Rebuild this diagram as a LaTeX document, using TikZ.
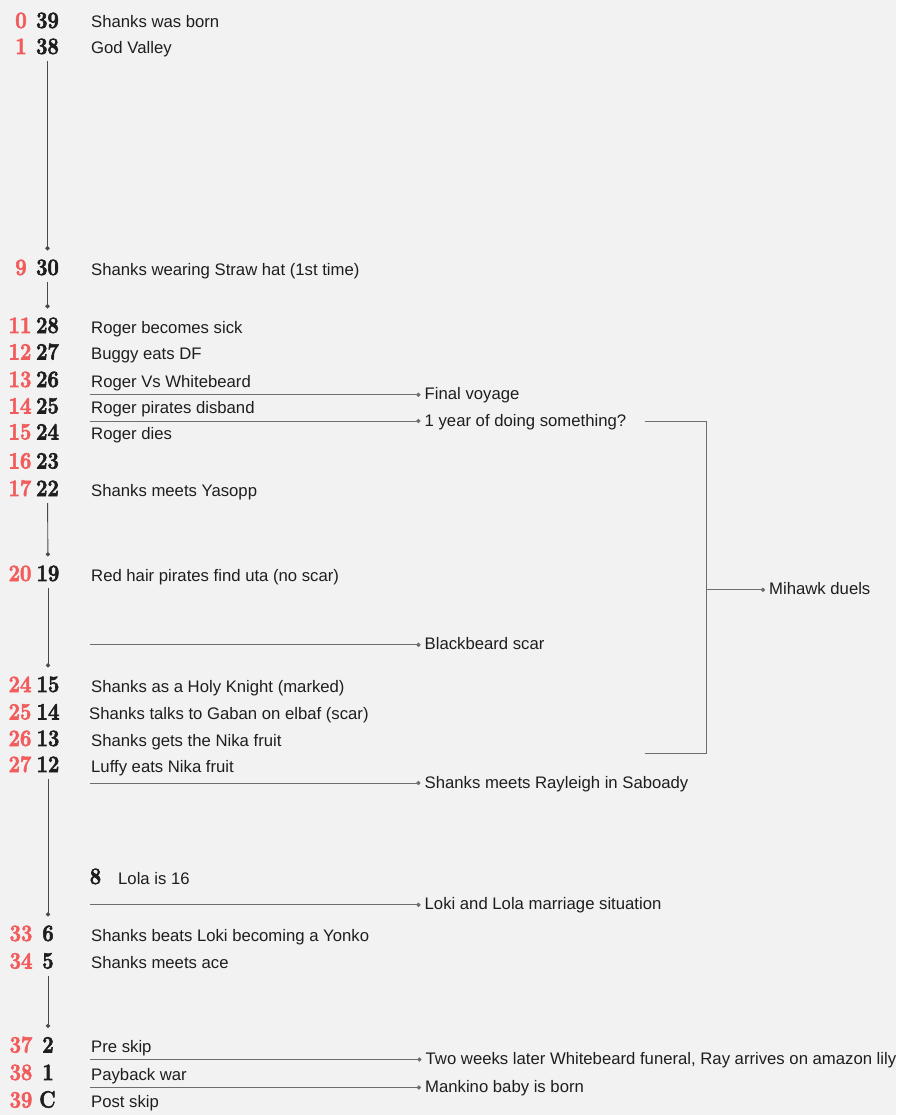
\documentclass[tikz,border=0pt]{standalone}
\usepackage{fontspec}
\usepackage{xcolor}
\usepackage{tikz}
\usetikzlibrary{arrows.meta}
\newfontfamily\labelfont{Liberation Sans}
\newfontfamily\numfont{Latin Modern Roman}[BoldFeatures={FakeBold=2.5, FakeStretch=0.86}]
\definecolor{bggray}{HTML}{F2F2F2}
\definecolor{agered}{HTML}{F25C5C}
\definecolor{inkdark}{HTML}{1E1E1E}
\definecolor{linedark}{HTML}{4A4A4A}
\definecolor{linegray}{HTML}{6E6E6E}

\begin{document}
\begin{tikzpicture}[
    x=1pt, y=-1pt,
    age/.style={anchor=base, inner sep=0pt, text=agered, font=\numfont\fontsize{23.5}{24}\selectfont\bfseries},
    num/.style={anchor=base, inner sep=0pt, text=inkdark, font=\numfont\fontsize{23.5}{24}\selectfont\bfseries},
    event/.style={anchor=base west, inner sep=0pt, text=inkdark, font=\labelfont\fontsize{16.7}{20}\selectfont},
    note/.style={event, text height=13pt, text depth=3pt},
    tline/.style={linedark, line width=0.9pt, shorten <=7pt, shorten >=9pt, -{Circle[length=4.2pt]}},
    link/.style={linegray, line width=0.9pt, shorten >=4pt, -{Circle[length=4.2pt]}},
    bracket/.style={linegray, line width=0.9pt}
  ]

    \path[use as bounding box, fill=bggray] (0,0) rectangle (896,1115);

    % Ages — red = Shanks' age, black = years before the story
    \node[age] (age0) at (21,28) {0};
    \node[num] (yr39) at (47.5,28) {39};
    \node[event] (ev39) at (91,28) {Shanks was born};
    \node[age] (age1) at (21,54) {1};
    \node[num] (yr38) at (47.5,54) {38};
    \node[event] (ev38) at (91,54) {God Valley};

    \node[age] (age9) at (21,275) {9};
    \node[num] (yr30) at (47.5,275) {30};
    \node[event] (ev30) at (91,275) {Shanks wearing Straw hat (1st time)};

    \node[age] (age11) at (20,333) {11};
    \node[num] (yr28) at (47.5,333) {28};
    \node[event] (ev28) at (91,333) {Roger becomes sick};
    \node[age] (age12) at (20,359.5) {12};
    \node[num] (yr27) at (47.5,359.5) {27};
    \node[event] (ev27) at (91,359.5) {Buggy eats DF};
    \node[age] (age13) at (20,387) {13};
    \node[num] (yr26) at (47.5,387) {26};
    \node[event] (ev26) at (91,387) {Roger Vs Whitebeard};
    \node[age] (age14) at (20,413.5) {14};
    \node[num] (yr25) at (47.5,413.5) {25};
    \node[event] (ev25) at (91,413.5) {Roger pirates disband};
    \node[age] (age15) at (20,439.5) {15};
    \node[num] (yr24) at (47.5,439.5) {24};
    \node[event] (ev24) at (91,439.5) {Roger dies};
    \node[age] (age16) at (20,468.5) {16};
    \node[num] (yr23) at (47.5,468.5) {23};
    \node[age] (age17) at (20,496) {17};
    \node[num] (yr22) at (47.5,496) {22};
    \node[event] (ev22) at (91,496) {Shanks meets Yasopp};

    \node[age] (age20) at (20,581) {20};
    \node[num] (yr19) at (48,581) {19};
    \node[event] (ev19) at (91,581) {Red hair pirates find uta (no scar)};

    \node[age] (age24) at (20,692) {24};
    \node[num] (yr15) at (48,692) {15};
    \node[event] (ev15) at (91,692) {Shanks as a Holy Knight (marked)};
    \node[age] (age25) at (20,719.5) {25};
    \node[num] (yr14) at (48,719.5) {14};
    \node[event] (ev14) at (89,719.5) {Shanks talks to Gaban on elbaf (scar)};
    \node[age] (age26) at (20,746) {26};
    \node[num] (yr13) at (48,746) {13};
    \node[event] (ev13) at (91,746) {Shanks gets the Nika fruit};
    \node[age] (age27) at (20,772) {27};
    \node[num] (yr12) at (48,772) {12};
    \node[event] (ev12) at (91,772) {Luffy eats Nika fruit};

    \node[num] (yr8) at (95.5,884) {8};
    \node[event] (ev8) at (118,884) {Lola is 16};

    \node[age] (age33) at (21,941) {33};
    \node[num] (yr6) at (48,941) {6};
    \node[event] (ev6) at (91,941) {Shanks beats Loki becoming a Yonko};
    \node[age] (age34) at (21,968.5) {34};
    \node[num] (yr5) at (48,968.5) {5};
    \node[event] (ev5) at (91,968.5) {Shanks meets ace};

    \node[age] (age37) at (21,1052.5) {37};
    \node[num] (yr2) at (48,1052.5) {2};
    \node[event] (ev2) at (91,1052.5) {Pre skip};
    \node[age] (age38) at (21,1080) {38};
    \node[num] (yr1) at (48,1080) {1};
    \node[event] (ev1) at (91,1080) {Payback war};
    \node[age] (age39) at (21,1107.5) {39};
    \node[num] (yrC) at (47.5,1107.5) {C};
    \node[event] (evC) at (91,1107.5) {Post skip};

    % Side notes between the rows
    \node[note] (voyage) at (424.5,399.8) {Final voyage};
    \node[note] (oneyear) at (424.5,426) {1 year of doing something?};
    \node[note] (bbscar) at (424.5,649.8) {Blackbeard scar};
    \node[note] (rayleigh) at (424.5,788) {Shanks meets Rayleigh in Saboady};
    \node[note] (lokilola) at (424.5,909.8) {Loki and Lola marriage situation};
    \node[note] (funeral) at (425.5,1064.5) {Two weeks later Whitebeard funeral, Ray arrives on amazon lily};
    \node[note] (mankino) at (425,1092.5) {Mankino baby is born};
    \node[note] (mihawk) at (769,594.8) {Mihawk duels};

    \coordinate (s1) at (89.5,394.8);
    \coordinate (s2) at (89.5,421);
    \coordinate (s3) at (89.5,644.8);
    \coordinate (s4) at (89.5,783);
    \coordinate (s5) at (89.5,904.8);
    \coordinate (s6) at (89.5,1059.5);
    \coordinate (s7) at (89.5,1087.5);
    \coordinate (brtop) at (645,421.7);
    \coordinate (brbot) at (645,753.3);
    \coordinate (brmid) at (706,589.8);

    % Timeline gaps
    \draw[tline] (yr38) -- (yr30);
    \draw[tline] (yr30) -- (yr28);
    \draw[tline] (yr22) -- (yr19);
    \draw[tline] (yr19) -- (yr15);
    \draw[tline] (yr12) -- (yr6);
    \draw[tline] (yr5) -- (yr2);

    % Links to notes
    \draw[link] (s1) -- (voyage);
    \draw[link] (s2) -- (oneyear);
    \draw[link] (s3) -- (bbscar);
    \draw[link] (s4) -- (rayleigh);
    \draw[link] (s5) -- (lokilola);
    \draw[link] (s6) -- (funeral);
    \draw[link] (s7) -- (mankino);

    % Mihawk bracket
    \draw[bracket] (brtop) -- ++(61,0) |- (brbot);
    \draw[link] (brmid) -- (mihawk);
  \end{tikzpicture}
\end{document}
